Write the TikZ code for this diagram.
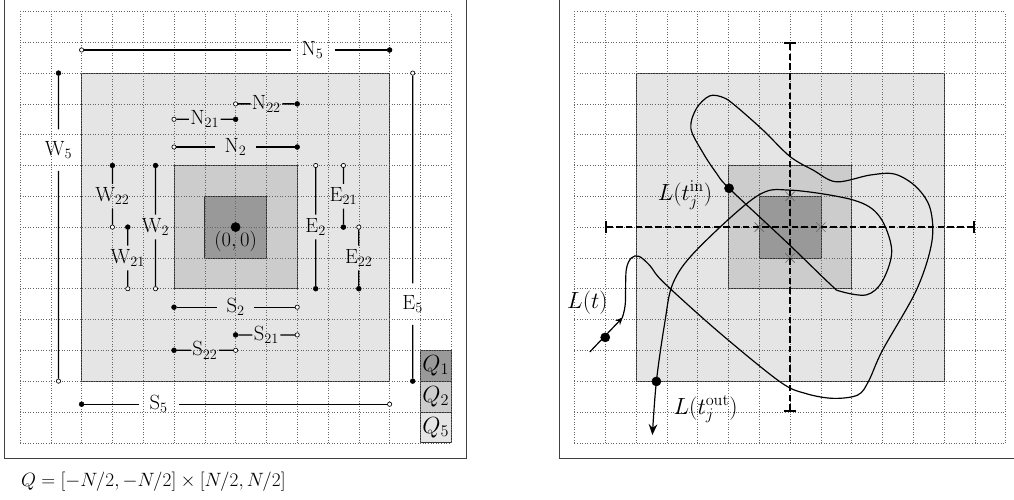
\RequirePackage{fix-cm}
\documentclass[tikz,border=0pt]{standalone}
\usepackage{amsmath}
\usetikzlibrary{arrows.meta, shapes.misc}
\newcommand{\opendot}{
coordinate[draw, fill=white, shape=circle, inner sep=1.4, line width=0.6pt]
}
\newcommand{\fulldot}{
coordinate[draw, fill=black, shape=circle, inner sep=1.6]
}
\newcommand{\bigdot}{
coordinate[draw, fill=black, shape=circle, inner sep=3]
}
% one side piece: open end, full end, label position, name, text
\newcommand{\side}[6][lab]{
\path #2 \opendot (#5s) #3 \fulldot (#5e);
\node[#1] (#5) at #4 {#6};
\draw[segline] (#5s) -- (#5) (#5) -- (#5e);
}

\begin{document}
\begin{tikzpicture}[
  font=\fontsize{17.28}{21}\selectfont,
  gridlines/.style={black!60, dotted, line width=0.4pt},
  frame/.style={draw=black!75, line width=0.8pt},
  box/.style={draw=black!80, line width=0.6pt},
  segline/.style={line width=1.2pt},
  lab/.style={scale=1.1, inner xsep=1pt, inner ysep=3pt},
  midlab/.style={scale=1.1, inner xsep=8pt, inner ysep=3pt},
  farlab/.style={scale=1.1, inner xsep=9pt, inner ysep=10pt},
  biglab/.style={scale=1.25},
  loopline/.style={line width=1.1pt},
  axisline/.style={line width=1.4pt, dash pattern=on 6pt off 3pt, {Bar[width=11pt]}-{Bar[width=11pt]}},
  xmark/.style={cross out, draw=black!60, line width=0.6pt, minimum size=8pt, inner sep=0pt}
]
\useasboundingbox (-0.649,-1.828) rectangle (32.27,14.373);

% left: the squares and their sides
\draw[frame] (-0.5,-0.5) rectangle (14.5,14.6);
\filldraw[box, fill=gray!20] (2,2) rectangle (12,12);
\filldraw[box, fill=gray!40] (5,5) rectangle (9,9);
\filldraw[box, fill=gray!80] (6,6) rectangle (8,8);
\filldraw[box, fill=gray!80] (13,2) rectangle (14,3);
\filldraw[box, fill=gray!40] (13,1) rectangle (14,2);
\filldraw[box, fill=gray!20] (13,0) rectangle (14,1);
\draw[gridlines] (0,0) grid (14,14);
\node[biglab] (q1) at (13.5,2.5) {$Q_1$};
\node[biglab] (q2) at (13.5,1.5) {$Q_2$};
\node[biglab] (q5) at (13.5,0.5) {$Q_5$};
\path (7,7) \bigdot (o) node[below, scale=1.1, inner sep=3pt] (olab) {$(0,0)$};

\side[farlab]{(2,12.75)}{(12,12.75)}{(9.5,12.75)}{n5}{N$_5$}
\side[farlab]{(12.75,12)}{(12.75,2)}{(12.75,4.5)}{e5}{E$_5$}
\side[farlab]{(12,1.25)}{(2,1.25)}{(4.5,1.25)}{s5}{S$_5$}
\side[farlab]{(1.25,2)}{(1.25,12)}{(1.25,9.5)}{w5}{W$_5$}
\side[midlab]{(5,9.6)}{(9,9.6)}{(7,9.6)}{n2}{N$_2$}
\side[midlab]{(9.6,9)}{(9.6,5)}{(9.6,7)}{e2}{E$_2$}
\side[midlab]{(9,4.4)}{(5,4.4)}{(7,4.4)}{s2}{S$_2$}
\side[midlab]{(4.4,5)}{(4.4,9)}{(4.4,7)}{w2}{W$_2$}
\side{(5,10.5)}{(7,10.5)}{(6,10.5)}{n21}{N$_{21}$}
\side{(7,11)}{(9,11)}{(8,11)}{n22}{N$_{22}$}
\side{(10.5,9)}{(10.5,7)}{(10.5,8)}{e21}{E$_{21}$}
\side{(11,7)}{(11,5)}{(11,6)}{e22}{E$_{22}$}
\side{(9,3.5)}{(7,3.5)}{(8,3.5)}{s21}{S$_{21}$}
\side{(7,3)}{(5,3)}{(6,3)}{s22}{S$_{22}$}
\side{(3.5,5)}{(3.5,7)}{(3.5,6)}{w21}{W$_{21}$}
\side{(3,7)}{(3,9)}{(3,8)}{w22}{W$_{22}$}

\node[anchor=base west, scale=1.03, inner sep=0pt] (cap) at (0.03,-1.41) {$Q=[-N/2,-N/2]\times[N/2,N/2]$};

% right: the path L(t) through the squares
\begin{scope}[xshift=18cm]
\draw[frame] (-0.5,-0.5) rectangle (14.6,14.6);
\filldraw[box, fill=gray!20] (2,2) rectangle (12,12);
\filldraw[box, fill=gray!40] (5,5) rectangle (9,9);
\filldraw[box, fill=gray!80] (6,6) rectangle (8,8);
\draw[gridlines] (0,0) grid (14,14);

\coordinate (hw) at (1,7);
\coordinate (he) at (13,7);
\coordinate (vs) at (7,1);
\coordinate (vn) at (7,13);
\foreach \p/\n in {(6,7)/xw, (8,7)/xe, (7,8)/xn, (7,6)/xs}
  \node[xmark] (\n) at \p {};
\draw[axisline] (hw) -- (he);
\draw[axisline] (vs) -- (vn);

\coordinate (ls) at (0.5,2.95);
\coordinate (la) at (1.57,4.07);
\draw[loopline, -{Stealth[length=7pt, width=6pt]}] (ls) -- (la);
\draw[loopline, -{Stealth[length=10pt, width=8pt]}] plot[smooth, tension=0.55] coordinates {
  (1.55,4.05) (1.65,4.5) (1.68,5.6) (1.85,6.0) (2.1,6.05) (2.45,5.75) (2.9,5.2)
  (4.7,3.58) (6.67,1.98) (7.5,1.6) (8.4,1.44) (9.2,1.55) (9.55,2.0) (10.0,3.0)
  (11.1,4.95) (11.6,6.5) (11.55,7.6) (11.1,8.3) (10.4,8.72) (9.6,8.69) (8.5,8.47)
  (7.75,8.85) (7.0,9.29) (6.12,10.15) (5.26,10.91) (4.85,11.2) (4.39,11.26)
  (3.96,10.85) (3.78,10.2) (4.18,9.4) (4.61,8.75) (5.02,8.26)
  (6.9,6.5) (8.3,5.15) (8.62,4.92) (9.48,4.8) (10.0,5.25) (10.3,6.25) (9.9,7.35)
  (9.05,7.88) (7.0,8.2) (5.9,7.99) (3.96,6.25) (3.2,5.18) (2.93,3.88) (2.66,1.99)
  (2.53,0.25)};
\path (1,3.42) \bigdot (lt);
\path (5.02,8.26) \bigdot (ltin);
\path (2.66,1.99) \bigdot (ltout);
\node[biglab, anchor=base] (ltlab) at (0.42,4.36) {$L(t)$};
\node[biglab, anchor=base] (tinlab) at (3.59,7.87) {$L(t_j^{\mathrm{in}})$};
\node[biglab, anchor=base] (toutlab) at (4.26,0.93) {$L(t_j^{\mathrm{out}})$};
\end{scope}
\end{tikzpicture}
\end{document}
